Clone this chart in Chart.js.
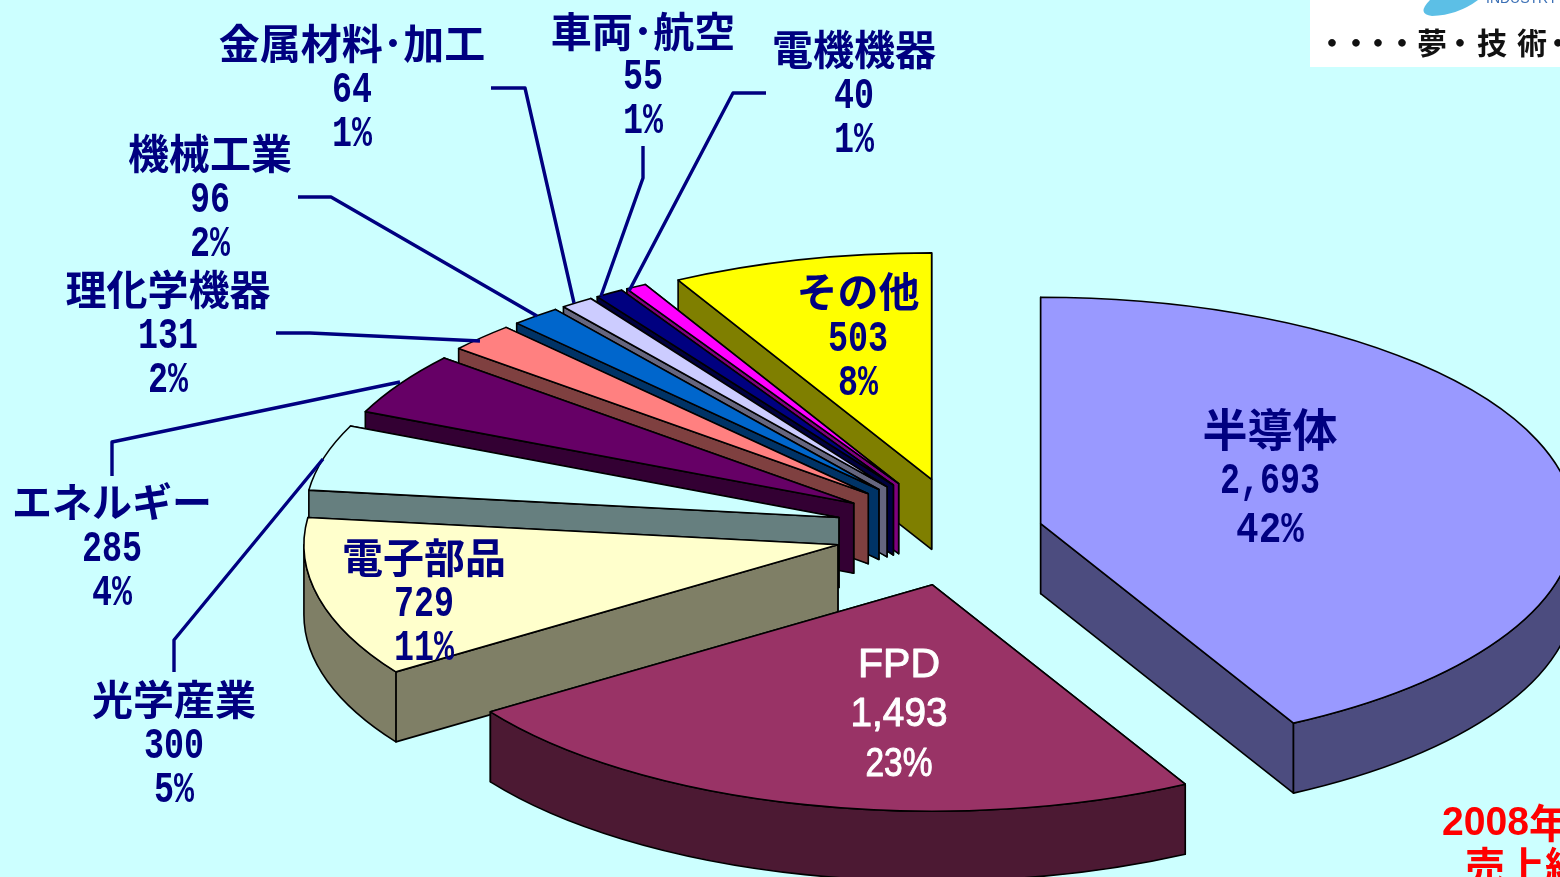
<!DOCTYPE html>
<html lang="ja">
<head>
<meta charset="utf-8">
<title>2008年 売上総額</title>
<script src="https://cdn.jsdelivr.net/npm/chart.js@4/dist/chart.umd.js"></script>
<style>
  html, body { margin: 0; padding: 0; background: #ccffff; overflow: hidden; }
  canvas { display: block; }
</style>
</head>
<body>
<canvas id="pie" width="1560" height="877"></canvas>
<script>
const categories = ['半導体', 'FPD', '電子部品', '光学産業', 'エネルギー', '理化学機器', '機械工業', '金属材料･加工', '車両･航空', '電機機器', 'その他'];
const sales = [2693, 1493, 729, 300, 285, 131, 96, 64, 55, 40, 503];
const sliceColors = ['#9999ff', '#993366', '#ffffcc', '#ccffff', '#660066', '#ff8080', '#0066cc', '#ccccff', '#000080', '#ff00ff', '#ffff00'];

// explosion as a share of the radius, 半導体 sits closer in
const explode = [0.15, 0.24, 0.241, 0.241, 0.241, 0.245, 0.245, 0.245, 0.245, 0.245, 0.24];

const RADIUS = 534;
const TILT = 0.424;
const DEPTH = 70;
const NAVY = '#000080';

// where each label block goes: centre x, centre y of the three lines
const labelPlaces = [
  {x: 1270, y: [430, 482, 531], size: 45, cell: 22.6},
  {x: 899, y: [666, 715, 765], color: '#ffffff', plain: true},
  {x: 424, y: [557, 605, 649]},
  {x: 174, y: [699, 747, 791]},
  {x: 112, y: [502, 550, 594], size: 40},
  {x: 168, y: [289, 337, 381]},
  {x: 210, y: [153, 201, 245]},
  {x: 352, y: [43, 91, 135]},
  {x: 643, y: [31, 78, 122]},
  {x: 854, y: [49, 97, 141]},
  {x: 858, y: [291, 340, 384]}
];

// leader lines, same order as the categories (the big slices have none)
const leaders = {
  3: [[174, 672], [174, 640], [323, 459]],
  4: [[112, 476], [112, 442], [400, 382]],
  5: [[276, 333], [310, 333], [480, 341]],
  6: [[298, 197], [331, 197], [537, 316]],
  7: [[491, 88], [525, 88], [574, 303]],
  8: [[643, 146], [643, 178], [601, 296]],
  9: [[766, 93], [733, 93], [629, 291]]
};

function halfColor(hex) {
  const n = parseInt(hex.slice(1), 16);
  return `rgb(${(n >> 16) / 2 | 0}, ${((n >> 8) & 255) / 2 | 0}, ${(n & 255) / 2 | 0})`;
}

function drawFace(ctx, pts, color) {
  ctx.beginPath();
  pts.forEach((p, i) => i ? ctx.lineTo(p[0], p[1]) : ctx.moveTo(p[0], p[1]));
  ctx.closePath();
  ctx.fillStyle = color;
  ctx.fill();
  ctx.stroke();
}

function drawSlice(ctx, arc, i) {
  const start = arc.startAngle, end = arc.endAngle;
  const mid = (start + end) / 2;
  const R = arc.outerRadius;
  const ax = arc.x + Math.cos(mid) * R * explode[i];
  const ay = arc.y + Math.sin(mid) * R * explode[i] * TILT;
  const rim = a => [ax + R * Math.cos(a), ay + R * TILT * Math.sin(a)];
  const wall = halfColor(sliceColors[i]);

  ctx.lineWidth = 1.6;
  ctx.strokeStyle = '#000000';
  ctx.lineJoin = 'round';

  // the two cut faces, the one further back first
  [start, end].sort((a, b) => Math.sin(a) - Math.sin(b)).forEach(a => {
    const p = rim(a);
    drawFace(ctx, [[ax, ay], p, [p[0], p[1] + DEPTH], [ax, ay + DEPTH]], wall);
  });

  // outer wall, only the part turned towards us
  const a0 = Math.max(start, 0), a1 = Math.min(end, Math.PI);
  if (a1 > a0) {
    ctx.beginPath();
    ctx.ellipse(ax, ay, R, R * TILT, 0, a0, a1);
    ctx.ellipse(ax, ay + DEPTH, R, R * TILT, 0, a1, a0, true);
    ctx.closePath();
    ctx.fillStyle = wall;
    ctx.fill();
    ctx.stroke();
  }

  // top face is the library's own arc, flattened
  ctx.save();
  ctx.translate(ax, ay);
  ctx.scale(1, TILT);
  ctx.translate(-arc.x, -arc.y);
  arc.draw(ctx);
  ctx.restore();

  ctx.beginPath();
  ctx.moveTo(ax, ay);
  ctx.ellipse(ax, ay, R, R * TILT, 0, start, end);
  ctx.closePath();
  ctx.stroke();
}

// FPD is set in a lighter proportional face, thickened a little
function drawPlain(ctx, text, x, y, width) {
  ctx.font = '41px "Liberation Sans"';
  ctx.strokeStyle = ctx.fillStyle;
  ctx.lineWidth = 1;
  ctx.strokeText(text, x, y, width);
  ctx.fillText(text, x, y, width);
}

// half-width figures for everything else
function drawNumber(ctx, text, x, y, place, cell) {
  if (place.plain) {
    drawPlain(ctx, text, x, y, text.length === 3 ? 67 : 97);
  } else {
    ctx.font = 'bold 44px "Liberation Mono"';
    ctx.fillText(text, x, y, text.length * cell);
  }
}

const total = sales.reduce((a, b) => a + b, 0);

const slice3d = {
  id: 'slice3d',
  beforeDatasetsDraw(chart) {
    const ctx = chart.ctx;
    const arcs = chart.getDatasetMeta(0).data;
    ctx.save();
    for (let i = arcs.length - 1; i >= 0; i--) {
      drawSlice(ctx, arcs[i], i);
    }
    ctx.restore();
    return false;
  },
  afterDraw(chart) {
    const ctx = chart.ctx;
    ctx.save();

    ctx.strokeStyle = NAVY;
    ctx.lineWidth = 3.4;
    ctx.lineJoin = 'round';
    Object.values(leaders).forEach(pts => {
      ctx.beginPath();
      pts.forEach((p, i) => i ? ctx.lineTo(p[0], p[1]) : ctx.moveTo(p[0], p[1]));
      ctx.stroke();
    });

    ctx.textAlign = 'center';
    ctx.textBaseline = 'middle';
    categories.forEach((name, i) => {
      const place = labelPlaces[i];
      const size = place.size || 41;
      ctx.fillStyle = place.color || NAVY;
      if (place.plain) {
        drawPlain(ctx, name, place.x, place.y[0], 82);
      } else {
        ctx.font = `bold ${size}px "Noto Sans CJK JP"`;
        ctx.fillText(name, place.x, place.y[0]);
      }
      drawNumber(ctx, sales[i].toLocaleString('en-US'), place.x, place.y[1], place, 20);
      drawNumber(ctx, Math.round(sales[i] / total * 100) + '%', place.x, place.y[2], place, place.cell || 20);
    });

    // logo corner, cropped by the picture edge
    ctx.fillStyle = '#ffffff';
    ctx.fillRect(1310, 0, 250, 67);
    ctx.fillStyle = '#5cbfe6';
    ctx.beginPath();
    ctx.moveTo(1430, 0);
    ctx.quadraticCurveTo(1416, 14, 1432, 16);
    ctx.quadraticCurveTo(1458, 15, 1478, 0);
    ctx.closePath();
    ctx.fill();
    ctx.fillStyle = '#3a6fb5';
    ctx.font = '14px "Liberation Sans"';
    ctx.textAlign = 'left';
    ctx.fillText('INDUSTRY', 1486, -1);
    ctx.fillStyle = '#111111';
    ctx.textAlign = 'center';
    ctx.font = 'bold 30px "Noto Sans CJK JP"';
    [['・', 1332], ['・', 1356], ['・', 1378], ['・', 1402], ['夢', 1432], ['・', 1460], ['技', 1492], ['術', 1532], ['・', 1558]]
      .forEach(t => ctx.fillText(t[0], t[1], 43));

    ctx.fillStyle = '#ff0000';
    ctx.textAlign = 'left';
    ctx.font = 'bold 41px "Liberation Sans"';
    ctx.fillText('2008', 1442, 824, 87);
    ctx.font = 'bold 40px "Noto Sans CJK JP"';
    ctx.fillText('年', 1529, 823);
    ctx.fillText('売上総', 1465, 866);
    ctx.restore();
  }
};

new Chart(document.getElementById('pie').getContext('2d'), {
  type: 'pie',
  data: {
    labels: categories,
    datasets: [{
      data: sales,
      backgroundColor: sliceColors,
      borderWidth: 0
    }]
  },
  options: {
    responsive: false,
    animation: false,
    events: [],
    radius: RADIUS,
    // pushes the pie centre to where the reference has it
    layout: {padding: {left: 366, top: 187}},
    plugins: {legend: {display: false}, tooltip: {enabled: false}}
  },
  plugins: [slice3d]
});
</script>
</body>
</html>
